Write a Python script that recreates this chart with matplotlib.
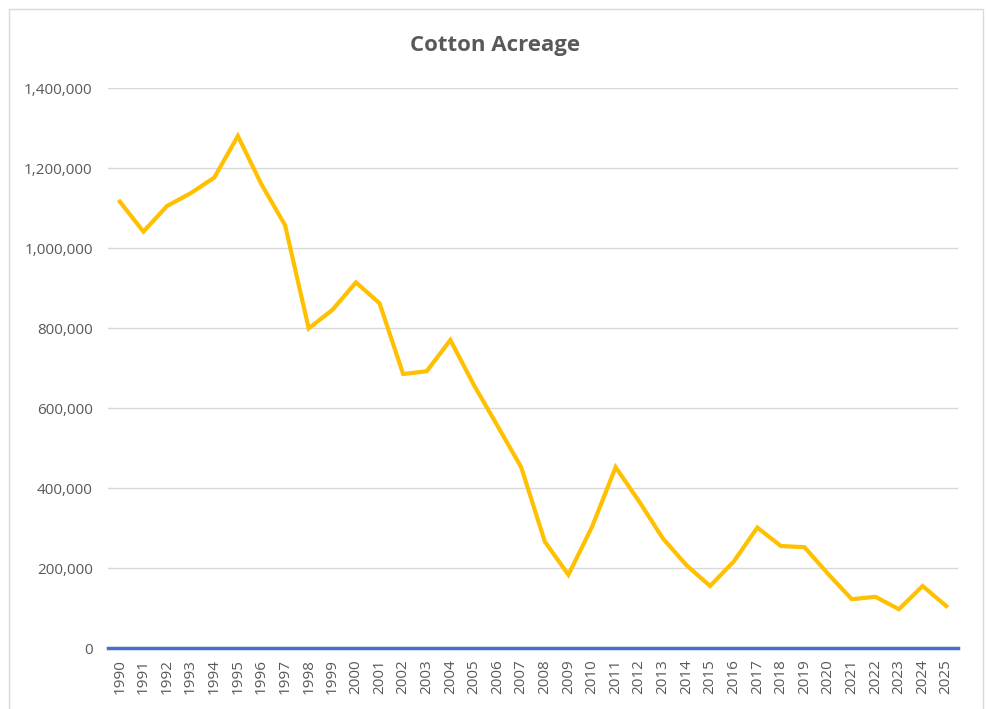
import matplotlib.pyplot as plt
from matplotlib.patches import Rectangle
from matplotlib.ticker import FuncFormatter

years = list(range(1990, 2026))
acreage = [1116000, 1041000, 1105000, 1137000, 1176000, 1280000, 1159000, 1057000,
           799000, 845000, 914000, 862000, 685000, 692000, 770000, 657000, 555000,
           452000, 266000, 183000, 303000, 452000, 366000, 274000, 207000, 155000,
           216000, 301000, 255000, 252000, 185000, 122000, 128000, 97000, 155000, 105000]
y_ticks = [0, 200000, 400000, 600000, 800000, 1000000, 1200000, 1400000]

plt.rcParams['font.family'] = ['Open Sans', 'DejaVu Sans']
text_grey = '#595959'

fig = plt.figure(figsize=(9.87, 7.09), dpi=100)
# chart frame like the spreadsheet chart area
fig.patches.append(Rectangle((9 / 987, -0.01), 974 / 987, 1 - 9 / 709 + 0.01,
                             transform=fig.transFigure, fill=False,
                             edgecolor='#D9D9D9', linewidth=1))

ax = fig.add_axes([108 / 987, 61 / 709, 850 / 987, 560 / 709])
x = list(range(len(years)))
ax.plot(x, acreage, color='#FFC000', linewidth=3, solid_joinstyle='miter', zorder=3)

ax.set_xlim(-0.5, len(years) - 0.5)
ax.set_ylim(0, 1400000)
ax.set_yticks(y_ticks)
ax.yaxis.set_major_formatter(FuncFormatter(lambda v, p: f'{int(v):,}'))
ax.set_xticks(x)
ax.set_xticklabels([str(y) for y in years], rotation=90)
ax.tick_params(axis='both', length=0, colors=text_grey)
ax.tick_params(axis='y', pad=11, labelsize=11)
ax.tick_params(axis='x', pad=8, labelsize=11)

ax.grid(axis='y', color='#D9D9D9', linewidth=1)
ax.set_axisbelow(True)
for side in ['top', 'right', 'left']:
    ax.spines[side].set_visible(False)
ax.spines['bottom'].set_color('#4472C4')
ax.spines['bottom'].set_linewidth(2.5)
ax.spines['bottom'].set_zorder(4)

fig.text(495 / 987, 1 - 45 / 709, 'Cotton Acreage', ha='center', va='center',
         fontsize=16, fontweight='bold', color=text_grey)

fig.savefig('out.png', dpi=100)
